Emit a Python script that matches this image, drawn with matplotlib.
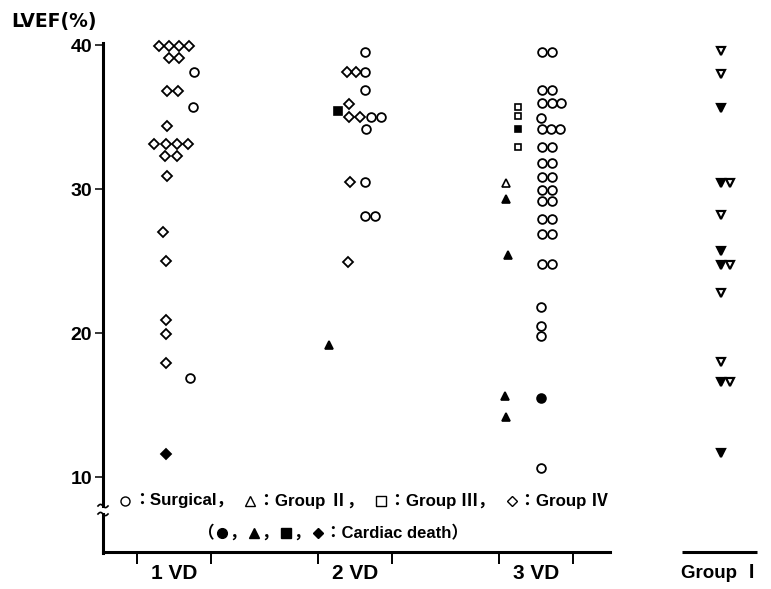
import numpy as np
import matplotlib.pyplot as plt
from matplotlib.lines import Line2D
from matplotlib.offsetbox import DrawingArea, TextArea, HPacker, AnnotationBbox

# ---------------------- Data ----------------------
groups = ["1 VD", "2 VD", "3 VD", "Group Ⅰ"]
group_x = [1.0, 2.0, 3.0, 4.02]

# values (LVEF %) and horizontal slot inside each column (in marker widths)
vd1_g4 = [39.9, 39.9, 39.9, 39.9, 39.1, 39.1, 36.8, 36.8, 34.4,
          33.1, 33.1, 33.1, 33.1, 32.3, 32.3, 30.9, 27.0, 25.0, 20.9, 19.9, 17.9]
vd1_g4_slot = [-1.5, -0.5, 0.5, 1.5, -0.5, 0.5, -0.7, 0.4, -0.7,
               -2.0, -0.8, 0.3, 1.4, -0.9, 0.3, -0.7, -1.1, -0.8, -0.8, -0.8, -0.8]
vd1_surg = [38.1, 35.7, 16.9]
vd1_surg_slot = [2.0, 1.9, 1.6]
vd1_g4_death = [11.6]
vd1_g4_death_slot = [-0.8]

vd2_surg = [39.5, 38.1, 36.9, 35.0, 35.0, 34.2, 30.5, 28.1, 28.1]
vd2_surg_slot = [1.0, 1.0, 1.0, 1.6, 2.6, 1.1, 1.0, 1.0, 2.0]
vd2_g4 = [38.1, 38.1, 35.9, 35.0, 35.0, 30.5, 24.9]
vd2_g4_slot = [-0.8, 0.1, -0.6, -0.6, 0.5, -0.5, -0.7]
vd2_g3_death = [35.4]
vd2_g3_death_slot = [-1.7]
vd2_g2_death = [19.2]
vd2_g2_death_slot = [-2.6]

vd3_surg = [39.5, 39.5, 36.9, 36.9, 36.0, 36.0, 36.0, 34.9, 34.2, 34.2, 34.2,
            32.9, 32.9, 31.8, 31.8, 30.8, 30.8, 29.9, 29.9, 29.2, 29.2,
            27.9, 27.9, 26.9, 26.9, 24.8, 24.8, 21.8, 20.5, 19.8, 10.6]
vd3_surg_slot = [0.6, 1.55, 0.6, 1.55, 0.6, 1.55, 2.5, 0.5, 0.6, 1.5, 2.4,
                 0.6, 1.55, 0.6, 1.55, 0.6, 1.55, 0.6, 1.55, 0.6, 1.55,
                 0.6, 1.55, 0.6, 1.55, 0.6, 1.55, 0.5, 0.5, 0.5, 0.5]
vd3_surg_death = [15.5]
vd3_surg_death_slot = [0.5]
vd3_g3 = [35.7, 35.1, 32.9]
vd3_g3_slot = [-1.8, -1.8, -1.8]
vd3_g3_death = [34.2]
vd3_g3_death_slot = [-1.8]
vd3_g2 = [30.4]
vd3_g2_slot = [-3.0]
vd3_g2_death = [29.3, 25.4, 15.65, 14.15]
vd3_g2_death_slot = [-3.0, -2.8, -3.1, -3.0]

g1 = [39.6, 38.0, 30.4, 28.2, 24.7, 22.75, 18.0, 16.6]
g1_slot = [0.0, 0.0, 0.9, 0.0, 0.9, 0.0, 0.0, 0.9]
g1_death = [35.6, 30.4, 25.7, 24.7, 16.6, 11.7]
g1_death_slot = [0.0, 0.0, 0.0, 0.0, 0.0, 0.0]

# ---------------------- Figure ----------------------
W, H = 771, 589
fig = plt.figure(figsize=(W / 100, H / 100), dpi=100)

ax_l, ax_r, ax_t, ax_b = 103, 760, 43, 552
ax = fig.add_axes([ax_l / W, 1 - ax_b / H, (ax_r - ax_l) / W, (ax_b - ax_t) / H])

px_per_unit = 181.0
slot_w = 10.0 / px_per_unit
ax.set_xlim(1 + (ax_l - 174) / px_per_unit, 1 + (ax_r - 174) / px_per_unit)
ax.set_ylim(10 - (ax_b - 477) / 14.4, 40 + (45 - ax_t) / 14.4)

STYLE = {
    'o': dict(marker='o', ms=6.3, mew=1.3),
    'D': dict(marker='D', ms=5.4, mew=1.3),
    's': dict(marker='s', ms=4.3, mew=1.2),
    '^': dict(marker='^', ms=5.2, mew=1.2),
    'v': dict(marker='v', ms=5.4, mew=1.6),
}


def draw(gi, vals, slots, m, filled, ms=None):
    x = group_x[gi] + np.array(slots) * slot_w
    st = dict(STYLE[m])
    if ms is not None:
        st['ms'] = ms
    ax.plot(x, vals, ls='none', mec='black', mfc='black' if filled else 'none',
            clip_on=False, zorder=3, **st)


draw(0, vd1_g4, vd1_g4_slot, 'D', False)
draw(0, vd1_surg, vd1_surg_slot, 'o', False)
draw(0, vd1_g4_death, vd1_g4_death_slot, 'D', True)

draw(1, vd2_surg, vd2_surg_slot, 'o', False)
draw(1, vd2_g4, vd2_g4_slot, 'D', False)
draw(1, vd2_g3_death, vd2_g3_death_slot, 's', True, ms=5.4)
draw(1, vd2_g2_death, vd2_g2_death_slot, '^', True)

draw(2, vd3_surg, vd3_surg_slot, 'o', False)
draw(2, vd3_surg_death, vd3_surg_death_slot, 'o', True)
draw(2, vd3_g3, vd3_g3_slot, 's', False)
draw(2, vd3_g3_death, vd3_g3_death_slot, 's', True)
draw(2, vd3_g2, vd3_g2_slot, '^', False)
draw(2, vd3_g2_death, vd3_g2_death_slot, '^', True)

draw(3, g1, g1_slot, 'v', False)
draw(3, g1_death, g1_death_slot, 'v', True)

# ---------------------- Axes ----------------------
for s in ['top', 'right', 'left']:
    ax.spines[s].set_visible(False)
ax.spines['bottom'].set_linewidth(2.2)
ax.spines['bottom'].set_bounds(ax.get_xlim()[0], 1 + (610 - 174) / px_per_unit)

# Group I base line
ax.plot([1 + (682 - 174) / px_per_unit, 1 + (757 - 174) / px_per_unit],
        [ax.get_ylim()[0]] * 2, color='black', lw=2.2, clip_on=False,
        solid_capstyle='butt')

half = 37 / px_per_unit
ax.set_xticks([g + d for g in group_x[:3] for d in (-half, half)])
ax.set_xticklabels([])
ax.tick_params(axis='x', which='major', direction='out', length=8.6, width=1.4)
ax.set_xticks(group_x, groups, minor=True)
ax.tick_params(axis='x', which='minor', length=0, pad=8.5)
for lab in ax.get_xticklabels(minor=True):
    lab.set_fontfamily(['Liberation Sans', 'Noto Sans CJK JP'])
    lab.set_fontweight('bold')
    lab.set_fontsize(15)
ax.get_xticklabels(minor=True)[-1].set_fontsize(13.5)

ax.set_yticks([10, 20, 30, 40])
ax.tick_params(axis='y', direction='out', length=5.8, width=1.1, pad=2)
for lab in ax.get_yticklabels():
    lab.set_fontfamily('Liberation Sans')
    lab.set_fontweight('bold')
    lab.set_fontsize(14)

# left axis line with break
def fx(px):
    return px / W


def fy(py):
    return 1 - py / H


lw_ax = 2.2
fig.add_artist(Line2D([fx(103), fx(103)], [fy(43), fy(506)], color='black', lw=lw_ax))
fig.add_artist(Line2D([fx(103), fx(103)], [fy(514), fy(553)], color='black', lw=lw_ax))
t = np.linspace(-5, 5, 30)
for yb in (506, 514):
    fig.add_artist(Line2D(fx(103 + t), fy(yb + 1.6 * np.sin(np.pi * t / 5)),
                          color='black', lw=1.2))

fig.text(fx(11), fy(21), "LVEF(%)", fontfamily='DejaVu Sans', fontweight='bold',
         fontsize=13.5, ha='left', va='center')

# ---------------------- Legend ----------------------
tp1 = dict(fontfamily=['Liberation Sans', 'Noto Sans CJK JP'], fontweight='bold',
           fontsize=12.2)
tp2 = dict(tp1, fontsize=12)


def mk(m, filled, ms):
    da = DrawingArea(11, 10, 0, 0)
    da.add_artist(Line2D([5.5], [5], marker=m, ms=ms, mew=1.0, mec='black',
                         mfc='black' if filled else 'none'))
    return da


line1 = HPacker(children=[
    mk('o', False, 6.5), TextArea("：Surgical，", textprops=tp1), TextArea("  ", textprops=tp1),
    mk('^', False, 6.5), TextArea("：Group Ⅱ，", textprops=tp1), TextArea("  ", textprops=tp1),
    mk('s', False, 6.5), TextArea("：Group Ⅲ，", textprops=tp1), TextArea("  ", textprops=tp1),
    mk('D', False, 5.2), TextArea("：Group Ⅳ", textprops=tp1),
], align='center', pad=0, sep=0)

line2 = HPacker(children=[
    TextArea("（", textprops=tp2), mk('o', True, 7.0), TextArea("，", textprops=tp2),
    mk('^', True, 6.5), TextArea("，", textprops=tp2),
    mk('s', True, 6.5), TextArea("，", textprops=tp2),
    mk('D', True, 5.0), TextArea("：Cardiac death）", textprops=tp2),
], align='center', pad=0, sep=0)

ax.add_artist(AnnotationBbox(line1, (fx(363), fy(501)), xycoords='figure fraction',
                             frameon=False, box_alignment=(0.5, 0.5)))
ax.add_artist(AnnotationBbox(line2, (fx(333), fy(533)), xycoords='figure fraction',
                             frameon=False, box_alignment=(0.5, 0.5)))

plt.savefig('out.png', dpi=100)
